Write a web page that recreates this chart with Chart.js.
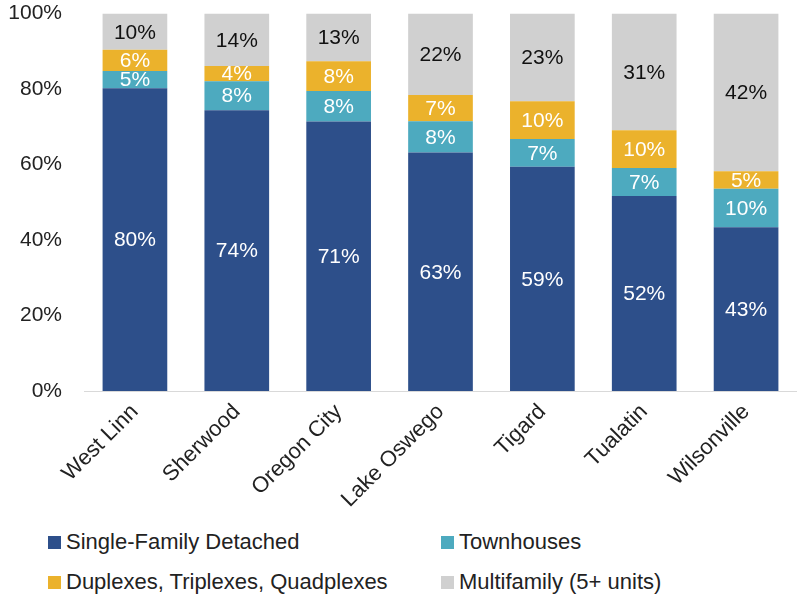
<!DOCTYPE html>
<html>
<head>
<meta charset="utf-8">
<script src="https://cdn.jsdelivr.net/npm/chart.js@4"></script>
<style>
  body { margin: 0; background: #fff; overflow: hidden; }
  #wrap { position: relative; width: 797px; height: 598px; overflow: hidden; }
  #chart-box { position: absolute; left: 0; top: -13px; width: 797px; height: 528px; }
  #legend { position: absolute; left: 0; top: 529px; width: 797px; font-family: "Liberation Sans", sans-serif; font-size: 22px; color: #222; }
  .item { position: absolute; display: flex; align-items: center; white-space: nowrap; }
  .box { width: 13px; height: 13px; margin-right: 5px; }
</style>
</head>
<body>
<div id="wrap">
  <div id="chart-box"><canvas id="myChart"></canvas></div>
  <div id="legend"></div>
</div>
<script>
const cities = ['West Linn', 'Sherwood', 'Oregon City', 'Lake Oswego', 'Tigard', 'Tualatin', 'Wilsonville'];
const singleFamily = [80.2, 74.4, 71.4, 63.2, 59.4, 51.7, 43.4];
const townhouses   = [4.6, 7.7, 8.1, 8.3, 7.4, 7.4, 10.2];
const plexes       = [5.6, 4.0, 7.9, 6.9, 10.0, 10.0, 4.6];
const multifamily  = [9.6, 13.9, 12.6, 21.6, 23.2, 30.9, 41.8];
const yTicks = [0, 20, 40, 60, 80, 100];

const fontFam = '"Liberation Sans", sans-serif';

const series = [
  { label: 'Single-Family Detached', data: singleFamily, color: '#2D4F8A', text: '#fff' },
  { label: 'Townhouses', data: townhouses, color: '#4DAABF', text: '#fff' },
  { label: 'Duplexes, Triplexes, Quadplexes', data: plexes, color: '#EBB22C', text: '#fff' },
  { label: 'Multifamily (5+ units)', data: multifamily, color: '#D0D0D0', text: '#111' }
];

// labels in the middle of every segment
const barLabels = {
  id: 'barLabels',
  afterDatasetsDraw(chart) {
    const c = chart.ctx;
    c.save();
    c.font = '21px ' + fontFam;
    c.textAlign = 'center';
    c.textBaseline = 'middle';
    chart.data.datasets.forEach((ds, i) => {
      const meta = chart.getDatasetMeta(i);
      meta.data.forEach((bar, j) => {
        const mid = (bar.y + bar.base) / 2;
        c.fillStyle = series[i].text;
        c.fillText(Math.round(ds.data[j]) + '%', bar.x, mid + 1);
      });
    });
    c.restore();
  }
};

const ctx = document.getElementById('myChart');

new Chart(ctx, {
  type: 'bar',
  data: {
    labels: cities,
    datasets: series.map(s => ({
      label: s.label,
      data: s.data,
      backgroundColor: s.color,
      borderWidth: 0,
      categoryPercentage: 1,
      barPercentage: 0.635
    }))
  },
  options: {
    responsive: true,
    maintainAspectRatio: false,
    animation: false,
    layout: { padding: 0 },
    scales: {
      x: {
        stacked: true,
        grid: { display: false },
        border: { display: true, color: '#D9D9D9', width: 1 },
        ticks: {
          color: '#222',
          minRotation: 45,
          maxRotation: 45,
          padding: 0,
          font: { size: 22, family: fontFam }
        },
        afterFit(scale) { scale.height = 124; }
      },
      y: {
        stacked: true,
        min: 0,
        max: 100,
        afterBuildTicks(scale) { scale.ticks = yTicks.map(v => ({ value: v })); },
        grid: { display: false },
        border: { display: false },
        ticks: {
          color: '#222',
          padding: 14,
          font: { size: 21, family: fontFam },
          callback: v => v + '%'
        },
        afterFit(scale) { scale.width = 84; }
      }
    },
    plugins: {
      legend: { display: false },
      tooltip: { enabled: false }
    }
  },
  plugins: [barLabels]
});

// html legend in two columns
const legendBox = document.getElementById('legend');
const spots = [[48, 0], [441, 0], [48, 40], [441, 40]];
series.forEach((s, i) => {
  const item = document.createElement('div');
  item.className = 'item';
  item.style.left = spots[i][0] + 'px';
  item.style.top = spots[i][1] + 'px';
  item.innerHTML = '<span class="box" style="background:' + s.color + '"></span><span>' + s.label + '</span>';
  legendBox.appendChild(item);
});
</script>
</body>
</html>
